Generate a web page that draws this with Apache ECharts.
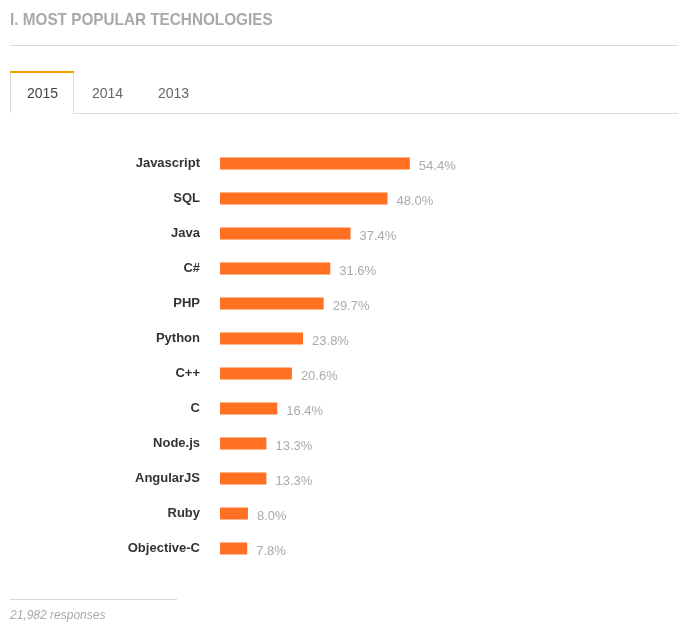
<!DOCTYPE html>
<html>
<head>
<meta charset="utf-8">
<script src="https://cdn.jsdelivr.net/npm/echarts@6/dist/echarts.min.js"></script>
<style>
  html, body { margin: 0; padding: 0; background: #fff; }
  #main { width: 686px; height: 632px; }
</style>
</head>
<body>
<div id="main"></div>
<script>
// survey data, 2015 tab
const technologies = ['Javascript', 'SQL', 'Java', 'C#', 'PHP', 'Python', 'C++', 'C', 'Node.js', 'AngularJS', 'Ruby', 'Objective-C'];
const shares = [54.4, 48.0, 37.4, 31.6, 29.7, 23.8, 20.6, 16.4, 13.3, 13.3, 8.0, 7.8];
const tabs = ['2015', '2014', '2013'];
const responses = '21,982 responses';

const chart = echarts.init(document.getElementById('main'));

const font = '"Liberation Sans", Arial, sans-serif';

const option = {
  backgroundColor: '#fff',
  animation: false,
  textStyle: { fontFamily: font },
  grid: { left: 220, top: 146, width: 349, height: 420 },
  xAxis: {
    type: 'value',
    min: 0,
    max: 100,
    show: false
  },
  yAxis: {
    type: 'category',
    data: technologies,
    inverse: true,
    axisLine: { show: false },
    axisTick: { show: false },
    axisLabel: {
      margin: 20,
      color: '#333',
      fontWeight: 'bold',
      fontSize: 13,
      fontFamily: font
    }
  },
  series: [{
    type: 'bar',
    data: shares,
    barWidth: 12,
    itemStyle: { color: '#ff7023' },
    label: {
      show: true,
      position: 'right',
      distance: 9,
      offset: [0, 3],
      color: '#aaa',
      fontSize: 13,
      fontFamily: font,
      formatter: p => p.value.toFixed(1) + '%'
    }
  }],
  graphic: [
    {
      // title, squeezed a bit to look like the condensed web font
      type: 'text', x: 10, y: 12, scaleX: 0.9,
      style: {
        text: 'I. MOST POPULAR TECHNOLOGIES',
        fill: '#a9a9a9',
        font: 'bold 17px ' + font
      }
    },
    { type: 'line', shape: { x1: 10, y1: 45.5, x2: 678, y2: 45.5 }, style: { stroke: '#d9d9d9', lineWidth: 1 } },
    // active tab
    { type: 'line', shape: { x1: 10.5, y1: 72, x2: 10.5, y2: 113 }, style: { stroke: '#dcdcdc', lineWidth: 1 } },
    { type: 'line', shape: { x1: 73.5, y1: 72, x2: 73.5, y2: 113.5 }, style: { stroke: '#dcdcdc', lineWidth: 1 } },
    { type: 'line', shape: { x1: 10, y1: 72, x2: 74, y2: 72 }, style: { stroke: '#f7a000', lineWidth: 2 } },
    { type: 'line', shape: { x1: 73, y1: 113.5, x2: 678, y2: 113.5 }, style: { stroke: '#dcdcdc', lineWidth: 1 } },
    { type: 'text', left: 27, top: 87, style: { text: tabs[0], fill: '#444', font: '14px ' + font } },
    { type: 'text', left: 92, top: 87, style: { text: tabs[1], fill: '#666', font: '14px ' + font } },
    { type: 'text', left: 158, top: 87, style: { text: tabs[2], fill: '#666', font: '14px ' + font } },
    // footer
    { type: 'line', shape: { x1: 10, y1: 599.5, x2: 177, y2: 599.5 }, style: { stroke: '#d9d9d9', lineWidth: 1 } },
    { type: 'text', left: 10, top: 610, style: { text: responses, fill: '#aaa', font: 'italic 12px ' + font } }
  ]
};

chart.setOption(option);
window.addEventListener('resize', () => chart.resize());
</script>
</body>
</html>
